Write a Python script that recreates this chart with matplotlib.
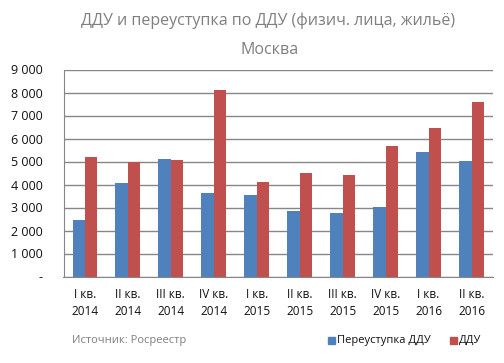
import matplotlib
matplotlib.use("Agg")
import matplotlib.pyplot as plt
import numpy as np
from matplotlib.patches import Rectangle

categories = ["I кв.\n2014", "II кв.\n2014", "III кв.\n2014", "IV кв.\n2014",
              "I кв.\n2015", "II кв.\n2015", "III кв.\n2015", "IV кв.\n2015",
              "I кв.\n2016", "II кв.\n2016"]
reassign = [2450, 4060, 5110, 3630, 3540, 2850, 2760, 3020, 5410, 5020]
ddu = [5200, 5000, 5070, 8110, 4110, 4500, 4410, 5670, 6460, 7590]
yticks = [0, 1000, 2000, 3000, 4000, 5000, 6000, 7000, 8000, 9000]
ytick_labels = ["-", "1 000", "2 000", "3 000", "4 000", "5 000", "6 000", "7 000", "8 000", "9 000"]

plt.rcParams['font.family'] = ['Open Sans', 'DejaVu Sans']

W, H = 504, 363
fig = plt.figure(figsize=(W / 100, H / 100), dpi=100)
ax = fig.add_axes([63.5 / W, 1 - 276.5 / H, (493 - 63.5) / W, (276.5 - 69.5) / H])

blue = "#4F81BD"
red = "#C0504D"
x = np.arange(len(categories))
bw = 0.29
ax.bar(x - bw / 2, reassign, bw, color=blue, label="Переуступка ДДУ", zorder=3)
ax.bar(x + bw / 2, ddu, bw, color=red, label="ДДУ", zorder=3)

ax.set_xlim(-0.5, len(categories) - 0.5)
ax.set_ylim(0, 9000)
ax.set_yticks(yticks)
ax.set_yticklabels(ytick_labels, fontsize=9, color="#111111")
ax.set_xticks(x)
ax.set_xticklabels(categories, fontsize=8.5, color="#111111", linespacing=1.4)
ax.tick_params(axis='x', length=0, pad=8)
ax.tick_params(axis='y', length=0, pad=15)
ax.grid(axis='y', color="#868686", linewidth=1.0, zorder=0)
for s in ["top", "right"]:
    ax.spines[s].set_visible(False)
ax.spines["left"].set_color("#868686")
ax.spines["bottom"].set_color("#868686")

fig.text(268 / W, 1 - 21 / H, "ДДУ и переуступка по ДДУ (физич. лица, жильё)",
         ha="center", va="center", fontsize=11.5, color="#7F7F7F")
fig.text(270 / W, 1 - 50 / H, "Москва", ha="center", va="center", fontsize=11.5, color="#7F7F7F")
fig.text(72 / W, 1 - 340 / H, "Источник: Росреестр", ha="left", va="center", fontsize=8, color="#7F7F7F")

fig.patches.append(Rectangle((328 / W, 1 - 344 / H), 7 / W, 7 / H, transform=fig.transFigure,
                             color=blue, figure=fig))
fig.text(337 / W, 1 - 340 / H, "Переуступка ДДУ", ha="left", va="center", fontsize=8, color="#111111")
fig.patches.append(Rectangle((450 / W, 1 - 344 / H), 7 / W, 7 / H, transform=fig.transFigure,
                             color=red, figure=fig))
fig.text(459 / W, 1 - 340 / H, "ДДУ", ha="left", va="center", fontsize=8, color="#111111")

fig.savefig("out.png", dpi=100)
